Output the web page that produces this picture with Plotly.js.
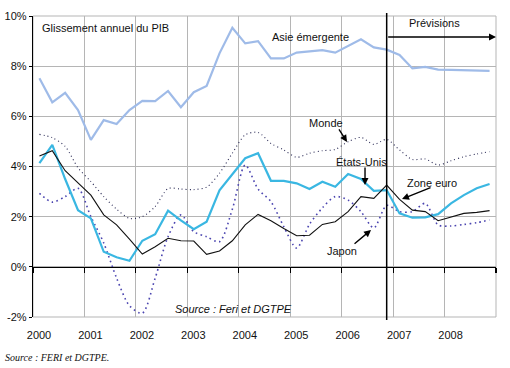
<!DOCTYPE html>
<html>
<head>
<meta charset="utf-8">
<script src="https://cdn.plot.ly/plotly-3.0.1.min.js"></script>
<style>html,body{margin:0;padding:0;background:#fff;}#chart{width:510px;height:368px;}</style>
</head>
<body>
<div id="chart"></div>
<script>
// Quarterly periods (2000 T1 .. 2008 T4)
const quarters = [
  '2000T1','2000T2','2000T3','2000T4','2001T1','2001T2','2001T3','2001T4',
  '2002T1','2002T2','2002T3','2002T4','2003T1','2003T2','2003T3','2003T4',
  '2004T1','2004T2','2004T3','2004T4','2005T1','2005T2','2005T3','2005T4',
  '2006T1','2006T2','2006T3','2006T4','2007T1','2007T2','2007T3','2007T4',
  '2008T1','2008T2','2008T3','2008T4'
];

// Annual GDP growth (%)
const asieEmergente = [7.52,6.56,6.94,6.25,5.06,5.85,5.69,6.25,6.62,6.61,7.01,6.36,
  6.96,7.21,8.51,9.53,8.91,9.00,8.31,8.31,8.54,8.59,8.64,8.54,
  8.80,9.07,8.75,8.66,8.45,7.91,7.97,7.86,7.85,7.83,7.82,7.81];
const monde = [5.28,5.15,4.80,3.95,3.40,2.80,2.30,1.93,2.00,2.40,3.12,3.10,
  3.08,3.18,3.73,4.53,5.26,5.36,4.92,4.66,4.37,4.53,4.63,4.68,
  4.99,5.16,4.88,5.08,4.66,4.28,4.30,4.06,4.23,4.39,4.50,4.59];
const etatsUnis = [4.13,4.86,3.50,2.26,1.93,0.60,0.38,0.24,1.04,1.30,2.24,1.85,
  1.50,1.80,3.05,3.70,4.33,4.53,3.43,3.43,3.33,3.10,3.39,3.19,
  3.70,3.50,3.03,3.06,2.13,1.96,1.97,2.10,2.53,2.86,3.13,3.30];
const zoneEuro = [4.42,4.63,3.83,3.33,2.86,2.07,1.67,1.10,0.51,0.80,1.14,1.04,
  1.03,0.50,0.63,1.04,1.67,2.09,1.84,1.53,1.24,1.26,1.69,1.80,
  2.20,2.80,2.73,3.26,2.69,2.26,2.20,1.84,2.00,2.13,2.17,2.24];
const japon = [2.93,2.58,2.80,3.13,2.00,0.95,-0.45,-1.55,-1.85,-0.45,1.20,2.07,
  1.40,1.20,1.00,2.30,4.06,3.10,2.60,1.60,0.75,1.70,2.35,2.80,
  2.66,2.20,1.55,2.45,2.20,2.20,2.53,1.67,1.63,1.69,1.76,1.87];

// Axis labels
const years = [2000,2001,2002,2003,2004,2005,2006,2007,2008];
const yearLabels = ['2000','2001','2002','2003','2004','2005','2006','2007','2008'];
const yTickVals = [-2,0,2,4,6,8,10];
const yTickText = ['-2%','0%','2%','4%','6%','8%','10%'];
const forecastStart = '2006T4';

const qx = q => +q.slice(0,4) + (+q.slice(5) - 0.5) / 4;
const x = quarters.map(qx);
const xForecast = qx(forecastStart);
const xRange = [2000, 2009];
const yRange = [-2, 10];

const traces = [
  {x: x, y: asieEmergente, name: 'Asie émergente', mode: 'lines',
   line: {color: '#9fbbe8', width: 2.2}},
  {x: x, y: monde, name: 'Monde', mode: 'lines',
   line: {color: '#2a2a55', width: 1.1, dash: '1px,3px', shape: 'spline', smoothing: 0.8}},
  {x: x, y: japon, name: 'Japon', mode: 'lines',
   line: {color: '#4b45b0', width: 1.6, dash: '1.6px,3.4px', shape: 'spline', smoothing: 0.8}},
  {x: x, y: zoneEuro, name: 'Zone euro', mode: 'lines', xaxis: 'x2',
   line: {color: '#111111', width: 1.1}},
  {x: x, y: etatsUnis, name: 'États-Unis', mode: 'lines',
   line: {color: '#3ab7e2', width: 2.2}}
];

const F = 'Liberation Sans, Arial, sans-serif';
const txt = (text, xx, yy, extra) => Object.assign({
  text: text, x: xx, y: yy, xref: 'x', yref: 'y', showarrow: false,
  font: {family: F, size: 11, color: '#111'}
}, extra || {});
const arr = (xx, yy, ax, ay) => ({
  text: '', x: xx, y: yy, xref: 'x', yref: 'y', ax: ax, ay: ay,
  showarrow: true, arrowhead: 2, arrowsize: 1, arrowwidth: 1.4, arrowcolor: '#000'
});

const layout = {
  width: 510, height: 368,
  margin: {l: 33, r: 14, t: 16, b: 51},
  paper_bgcolor: '#fff', plot_bgcolor: '#fff',
  showlegend: false,
  font: {family: F, size: 11, color: '#111'},
  xaxis: {
    range: xRange, tickvals: years, ticktext: yearLabels, ticklabelshift: 6,
    ticks: 'outside', ticklen: 8, tickcolor: 'rgba(0,0,0,0)',
    showgrid: true, gridcolor: '#b5b5b5', gridwidth: 1,
    zeroline: false, showline: false, fixedrange: true,
    tickfont: {family: F, size: 11, color: '#111'}
  },
  xaxis2: {
    overlaying: 'x', anchor: 'free', side: 'bottom',
    position: (0 - yRange[0]) / (yRange[1] - yRange[0]),
    range: xRange, tickvals: years.concat([2009]), ticks: 'outside', ticklen: 5,
    tickcolor: '#000', tickwidth: 1.2, showticklabels: false,
    showline: true, linecolor: '#000', linewidth: 1.5,
    showgrid: false, zeroline: false
  },
  yaxis: {
    range: yRange, tickvals: yTickVals, ticktext: yTickText,
    ticks: 'outside', ticklen: 3, tickcolor: '#000',
    showline: true, linecolor: '#000', linewidth: 1.2,
    showgrid: true, gridcolor: '#b5b5b5', gridwidth: 1, zeroline: false,
    tickfont: {family: F, size: 11, color: '#111'}
  },
  shapes: [
    {type: 'rect', xref: 'paper', yref: 'paper', x0: 0, x1: 1, y0: 0, y1: 1,
     line: {color: '#b5b5b5', width: 1}, layer: 'between'},
    {type: 'line', xref: 'x', yref: 'paper', x0: xForecast, x1: xForecast, y0: -0.01, y1: 1.01,
     line: {color: '#000', width: 1.5}, layer: 'above'}
  ],
  annotations: [
    txt('Glissement annuel du PIB', 2000.136, 9.53, {xanchor: 'left'}),
    txt('Prévisions', 2007.795, 9.73),
    {text: '', x: 2009, y: 9.16, xref: 'x', yref: 'y', ax: xForecast, ay: 9.16,
     axref: 'x', ayref: 'y', showarrow: true, arrowhead: 2, arrowsize: 1,
     arrowwidth: 1.4, arrowcolor: '#000'},
    txt('Asie émergente', 2005.385, 9.17),
    txt('Monde', 2005.696, 5.73),
    arr(2006.104, 4.98, -9, -14),
    txt('États-Unis', 2006.376, 4.18),
    arr(2006.454, 3.26, 0, -19),
    txt('Zone euro', 2007.757, 3.34),
    arr(2007.173, 2.70, 30, -12),
    txt('Japon', 2006.007, 0.63),
    arr(2006.571, 1.47, -18, 15),
    txt('Source : Feri et DGTPE', 2003.907, -1.68, {font: {family: F, size: 11, color: '#111', style: 'italic'}}),
    {text: 'Source : FERI et DGTPE.', xref: 'paper', yref: 'paper', x: -0.065, y: -0.133,
     xanchor: 'left', yanchor: 'middle', showarrow: false,
     font: {family: 'Liberation Serif, Times New Roman, serif', size: 10, color: '#111', style: 'italic'}}
  ]
};

Plotly.newPlot('chart', traces, layout, {displayModeBar: false, staticPlot: true});
</script>
</body>
</html>
